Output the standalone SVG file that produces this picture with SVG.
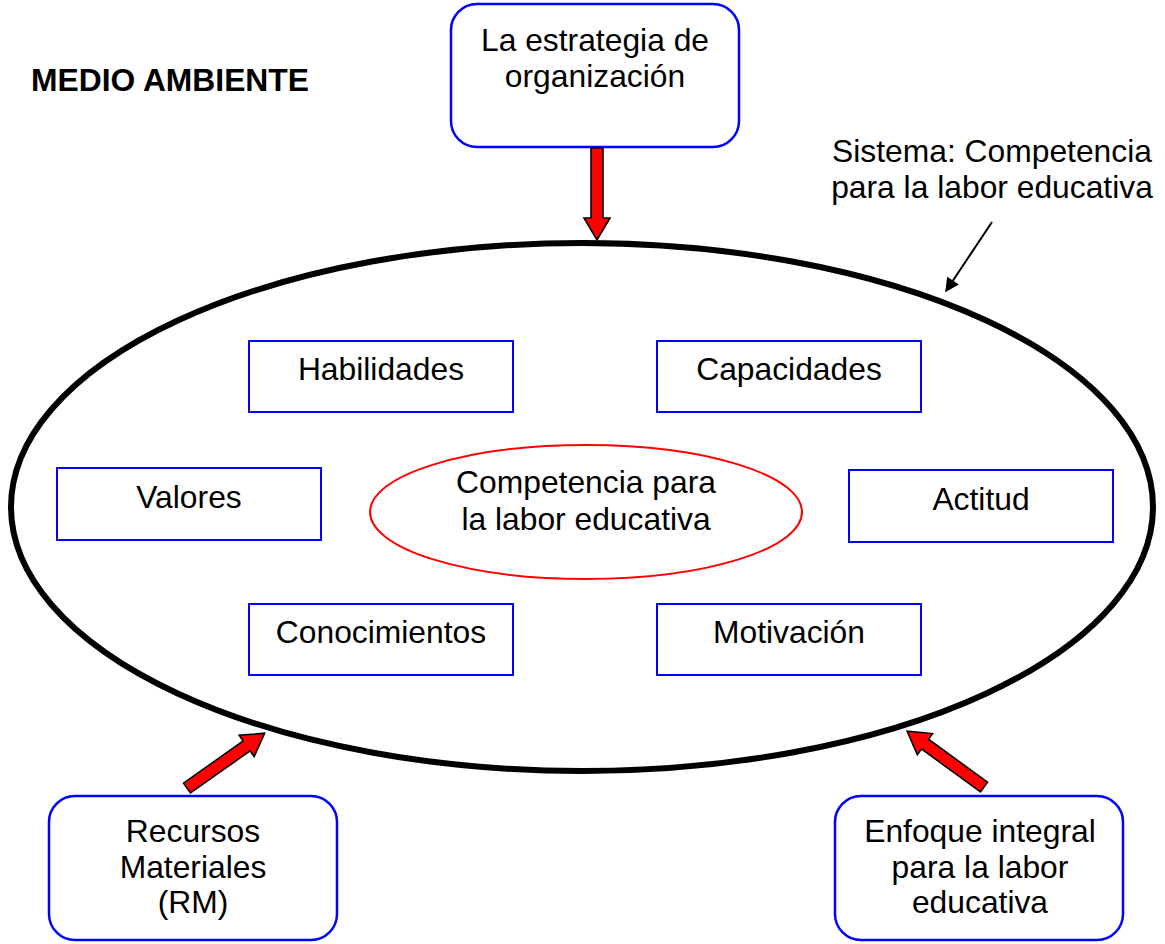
<svg xmlns="http://www.w3.org/2000/svg" width="1165" height="944" viewBox="0 0 1165 944">
<style>
text{font-family:"Liberation Sans",Arial,sans-serif;font-size:31.8px;fill:#000;text-anchor:middle}
.box{fill:#fff;stroke:#0000ff;stroke-width:2}
.rbox{fill:#fff;stroke:#0000ff;stroke-width:2.5}
.red{fill:#ff0000;stroke:#000;stroke-width:1.6;stroke-linejoin:miter}
</style>
<defs>
<marker id="ah" viewBox="0 0 10 10" refX="9" refY="5" markerWidth="16" markerHeight="14" markerUnits="userSpaceOnUse" orient="auto"><path d="M0,0 L10,5 L0,10 z" fill="#000"/></marker>
</defs>
<rect width="1165" height="944" fill="#fff"/>
<text x="170" y="91" style="font-weight:bold;text-anchor:middle">MEDIO AMBIENTE</text>
<g id="sistema-label"><text x="992" y="162">Sistema: Competencia</text><text x="992" y="198">para la labor educativa</text></g>
<g id="sistema"><ellipse cx="582" cy="507" rx="571" ry="264" fill="none" stroke="#000" stroke-width="6"/></g>
<g id="estrategia"><rect class="rbox" x="451" y="4" width="288" height="143" rx="26"/><text x="595" y="51">La estrategia de</text><text x="595" y="87">organización</text></g>
<g id="recursos"><rect class="rbox" x="49" y="796" width="288" height="144" rx="26"/><text x="193" y="842">Recursos</text><text x="193" y="878">Materiales</text><text x="193" y="913">(RM)</text></g>
<g id="enfoque"><rect class="rbox" x="835" y="796" width="288" height="144" rx="26"/><text x="980" y="842">Enfoque integral</text><text x="980" y="878">para la labor</text><text x="980" y="913">educativa</text></g>
<g id="habilidades"><rect class="box" x="249" y="341" width="264" height="71"/><text x="381" y="380">Habilidades</text></g>
<g id="capacidades"><rect class="box" x="657" y="341" width="264" height="71"/><text x="789" y="380">Capacidades</text></g>
<g id="valores"><rect class="box" x="57" y="468" width="264" height="72"/><text x="189" y="508">Valores</text></g>
<g id="actitud"><rect class="box" x="849" y="470" width="264" height="72"/><text x="981" y="510">Actitud</text></g>
<g id="conocimientos"><rect class="box" x="249" y="604" width="264" height="71"/><text x="381" y="643">Conocimientos</text></g>
<g id="motivacion"><rect class="box" x="657" y="604" width="264" height="71"/><text x="789" y="643">Motivación</text></g>
<g id="competencia"><ellipse cx="586" cy="512" rx="216" ry="67" fill="#fff" stroke="#ff0000" stroke-width="2"/><text x="586" y="493">Competencia para</text><text x="586" y="530">la labor educativa</text></g>
<g id="connectors">
<polygon class="red" points="591,148 603,148 603,218 610,218 597,240 584,218 591,218"/>
<polygon class="red" transform="translate(187,788) rotate(-35.2)" points="0,-6 73,-6 73,-13 95,0 73,13 73,6 0,6"/>
<polygon class="red" transform="translate(984,787) rotate(-144)" points="0,-6 73,-6 73,-13 95,0 73,13 73,6 0,6"/>
<line x1="992" y1="222" x2="946" y2="291" stroke="#000" stroke-width="2" marker-end="url(#ah)"/>
</g>
</svg>
